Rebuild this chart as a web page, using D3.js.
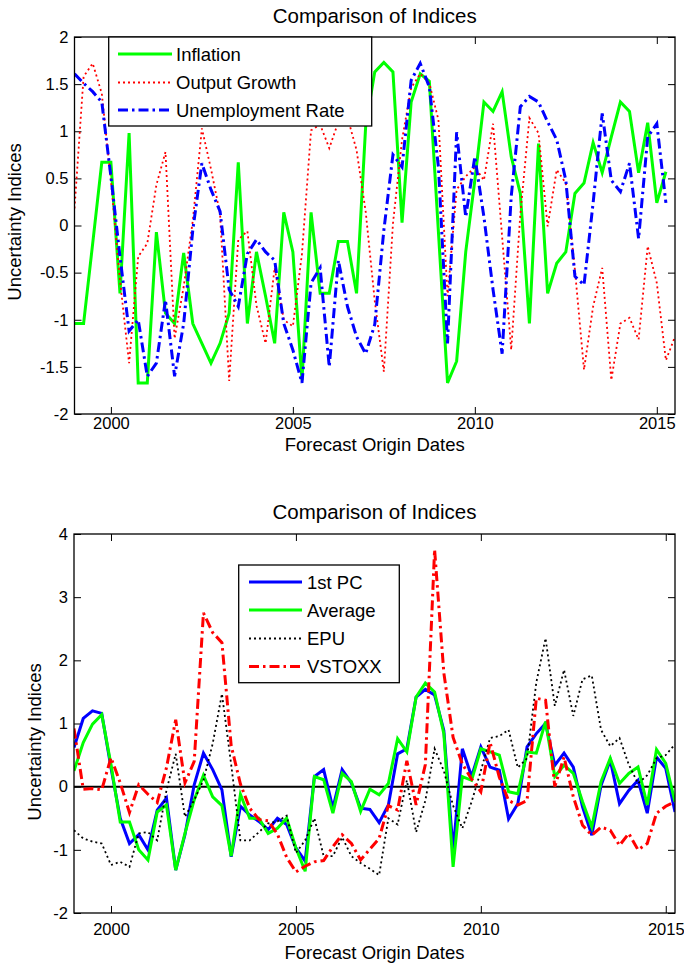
<!DOCTYPE html>
<html>
<head>
<meta charset="utf-8">
<script src="https://cdn.jsdelivr.net/npm/d3@7"></script>
<style>
    body { margin: 0; background: #fff; }
    svg { font-family: "Liberation Sans", Arial, Helvetica, sans-serif; }
</style>
</head>
<body>
<div id="chart"></div>
<script>
// Quarterly data, first observation 1999Q1
const startYear = 1999;
const xTickYears = [2000, 2005, 2010, 2015];
const topYTicks = [-2, -1.5, -1, -0.5, 0, 0.5, 1, 1.5, 2];
const bottomYTicks = [-2, -1, 0, 1, 2, 3, 4];

// Top panel series
const inflation = [-1.04, -1.04, -0.19, 0.67, 0.67, -0.72, 0.98, -1.67, -1.67, -0.07,
    -0.93, -1.04, -0.29, -1.04, -1.25, -1.46, -1.25, -0.93, 0.67, -1.04,
    -0.28, -0.75, -1.25, 0.14, -0.28, -1.64, 0.14, -0.72, -0.72, -0.17,
    -0.17, -0.72, 1.05, 1.63, 1.73, 1.63, 0.03, 1.31, 1.61, 1.53,
    -0.07, -1.67, -1.44, -0.28, 0.48, 1.31, 1.21, 1.42, 0.73, 0.34,
    -1.04, 0.87, -0.72, -0.40, -0.28, 0.34, 0.45, 0.88, 0.56, 0.94,
    1.31, 1.21, 0.56, 1.09, 0.24, 0.57];

const outputGrowth = [0.18, 1.58, 1.72, 1.40, 0.48, -0.58, -1.46, -0.33, -0.19, 0.43,
    0.78, -1.20, -0.65, 0.05, 1.03, 0.60, 0.12, -1.65, -0.15, -0.06,
    -0.85, -1.25, -0.45, -1.00, -1.07, -0.30, 1.01, 1.07, 0.82, 1.10,
    1.15, 0.80, 0.15, -0.80, -1.55, 0.02, 0.91, 1.46, 1.61, 1.51,
    1.12, -0.75, 0.38, 0.52, 0.62, 0.48, 1.08, -0.12, -1.32, 0.12,
    1.14, 0.98, -0.01, 0.59, 0.45, -0.47, -1.53, -0.86, -0.45, -1.64,
    -1.04, -0.98, -1.21, -0.22, -0.61, -1.43, -1.18];

const unemployment = [1.61, 1.51, 1.42, 1.31, 0.52, -0.33, -1.12, -1.00, -1.60, -1.46,
    -0.79, -1.60, -1.04, -0.05, 0.66, 0.38, 0.15, -0.68, -0.86, -0.30,
    -0.15, -0.28, -0.37, -1.04, -1.32, -1.67, -0.61, -0.45, -1.50, -0.37,
    -0.86, -1.18, -1.36, -1.05, -0.05, 0.75, 0.62, 1.54, 1.72, 1.47,
    0.62, -1.25, 0.99, 0.09, 0.73, 0.09, -0.68, -1.36, 0.31, 1.26,
    1.37, 1.31, 1.10, 0.91, 0.48, -0.54, -0.63, 0.24, 1.19, 0.48,
    0.36, 0.66, -0.14, 0.94, 1.08, 0.24];

// Bottom panel series
const firstPC = [0.62, 1.08, 1.20, 1.16, 0.30, -0.50, -0.90, -0.76, -1.00, -0.37,
    -0.18, -1.32, -0.76, 0.03, 0.53, 0.27, -0.05, -1.11, -0.31, -0.45,
    -0.55, -0.68, -0.50, -0.60, -0.97, -1.18, 0.16, 0.27, -0.34, 0.27,
    0.06, -0.34, -0.36, -0.57, -0.29, 0.52, 0.60, 1.42, 1.54, 1.45,
    0.89, -1.01, 0.60, 0.16, 0.63, 0.31, 0.26, -0.51, -0.27, 0.63,
    0.84, 1.00, 0.34, 0.53, 0.31, -0.32, -0.77, 0.02, 0.42, -0.27,
    -0.06, 0.10, -0.42, 0.47, 0.29, -0.40];

const average = [0.25, 0.70, 0.99, 1.14, 0.35, -0.56, -0.56, -1.00, -1.16, -0.40,
    -0.29, -1.32, -0.74, -0.21, 0.18, -0.16, -0.30, -1.10, -0.12, -0.50,
    -0.50, -0.74, -0.66, -0.50, -0.97, -1.34, 0.16, 0.11, -0.42, 0.21,
    0.08, -0.39, -0.04, -0.13, 0.05, 0.76, 0.55, 1.42, 1.64, 1.50,
    0.84, -1.27, 0.16, 0.10, 0.60, 0.55, 0.50, -0.08, -0.11, 0.55,
    0.53, 1.03, 0.16, 0.34, 0.21, -0.24, -0.64, 0.08, 0.45, 0.05,
    0.21, 0.31, -0.29, 0.59, 0.37, -0.24];

const epu = [-0.69, -0.82, -0.87, -0.90, -1.24, -1.19, -1.27, -0.74, -0.72, -0.85,
    -0.06, 0.52, -0.48, -0.21, 0.10, 0.68, 1.47, 0.35, -0.85, -0.85,
    -0.72, -0.58, -0.55, -0.46, -1.05, -0.85, -0.50, -1.10, -1.10, -0.80,
    -1.10, -1.21, -1.30, -1.40, -0.50, -0.60, 0.10, -0.72, -0.22, 0.60,
    0.25, -0.30, -0.66, -0.24, 0.25, 0.77, 0.80, 0.90, 0.30, 0.45,
    1.65, 2.35, 1.28, 1.85, 1.12, 1.70, 1.76, 0.90, 0.64, 0.77,
    0.35, 0.05, 0.18, 0.45, 0.50, 0.67];

const vstoxx = [0.92, -0.04, -0.03, -0.05, 0.46, 0.06, -0.41, 0.03, -0.12, -0.25,
    0.30, 1.06, 0.06, 0.40, 2.75, 2.44, 2.28, 0.65, 0.04, -0.34,
    -0.52, -0.54, -0.75, -1.12, -1.35, -1.26, -1.19, -1.17, -0.95, -0.76,
    -0.90, -1.16, -0.99, -0.82, -0.30, -0.37, 0.41, -0.29, 0.35, 3.75,
    1.80, 0.78, 0.36, 0.12, -0.08, 0.70, 0.15, -0.22, -0.29, -0.22,
    1.40, 1.37, 0.00, 0.47, -0.16, -0.61, -0.77, -0.64, -0.69, -0.93,
    -0.74, -1.00, -0.90, -0.42, -0.31, -0.24];

const toPoints = (values) => values.map((v, i) => ({ date: startYear + i / 4, value: v }));

// Line styles
const solid = null;
const dotted = "2,3";
const dashDot = "10,4,2.5,4";

const svg = d3.select("#chart")
    .append("svg")
    .attr("width", 684)
    .attr("height", 966);

function drawPanel(p) {
    const width = p.width;
    const height = p.height;

    const g = svg.append("g")
        .attr("transform", `translate(${p.left},${p.top})`);

    const x = d3.scaleLinear().domain(p.xDomain).range([0, width]);
    const y = d3.scaleLinear().domain(p.yDomain).range([height, 0]);

    const clipId = "clip-" + p.id;
    g.append("clipPath")
        .attr("id", clipId)
        .append("rect")
        .attr("width", width)
        .attr("height", height);

    // Axes with inward ticks on all four sides
    const fmt = (d) => String(d);
    const xAxis = g.append("g")
        .attr("transform", `translate(0,${height})`)
        .call(d3.axisBottom(x).tickValues(xTickYears).tickFormat(fmt)
            .tickSizeInner(-7).tickSizeOuter(0).tickPadding(p.xPad));
    const xTop = g.append("g")
        .call(d3.axisTop(x).tickValues(xTickYears).tickFormat("")
            .tickSizeInner(-7).tickSizeOuter(0));
    const yAxis = g.append("g")
        .call(d3.axisLeft(y).tickValues(p.yTicks).tickFormat(fmt)
            .tickSizeInner(-7).tickSizeOuter(0).tickPadding(6));
    const yRight = g.append("g")
        .attr("transform", `translate(${width},0)`)
        .call(d3.axisRight(y).tickValues(p.yTicks).tickFormat("")
            .tickSizeInner(-7).tickSizeOuter(0));

    [xAxis, xTop, yAxis, yRight].forEach((a) => {
        a.select(".domain").remove();
        a.selectAll(".tick line").attr("stroke", "#000").attr("stroke-width", 1);
        a.selectAll(".tick text")
            .attr("fill", "#000")
            .style("font-size", "16.5px");
    });

    // Zero reference line
    if (p.zeroLine) {
        g.append("line")
            .attr("x1", 0)
            .attr("x2", width)
            .attr("y1", y(0))
            .attr("y2", y(0))
            .attr("stroke", "#000")
            .attr("stroke-width", 2);
    }

    const line = d3.line()
        .x((d) => x(d.date))
        .y((d) => y(d.value));

    // Series
    p.series.forEach((s) => {
        g.append("path")
            .datum(toPoints(s.values))
            .attr("clip-path", `url(#${clipId})`)
            .attr("fill", "none")
            .attr("stroke", s.color)
            .attr("stroke-width", s.width)
            .attr("stroke-dasharray", s.dash)
            .attr("stroke-linejoin", "miter")
            .attr("d", line);
    });

    // Axes box
    g.append("rect")
        .attr("width", width)
        .attr("height", height)
        .attr("fill", "none")
        .attr("stroke", "#000")
        .attr("stroke-width", 1.3);

    // Legend
    const lg = p.legend;
    const leg = svg.append("g");
    leg.append("rect")
        .attr("x", lg.x)
        .attr("y", lg.y)
        .attr("width", lg.w)
        .attr("height", lg.h)
        .attr("fill", "#fff")
        .attr("stroke", "#000")
        .attr("stroke-width", 1.3);
    p.series.forEach((s, i) => {
        const ry = lg.rows[i];
        leg.append("line")
            .attr("x1", lg.lineX0)
            .attr("x2", lg.lineX1)
            .attr("y1", ry)
            .attr("y2", ry)
            .attr("stroke", s.color)
            .attr("stroke-width", s.width)
            .attr("stroke-dasharray", s.dash);
        leg.append("text")
            .attr("x", lg.textX)
            .attr("y", ry)
            .attr("dy", "0.36em")
            .style("font-size", "18.5px")
            .text(s.name);
    });

    // Title
    svg.append("text")
        .attr("x", p.left + width / 2)
        .attr("y", p.titleY)
        .attr("text-anchor", "middle")
        .style("font-size", "20.5px")
        .text("Comparison of Indices");

    // X-axis label
    svg.append("text")
        .attr("x", p.left + width / 2)
        .attr("y", p.xLabelY)
        .attr("text-anchor", "middle")
        .style("font-size", "18.5px")
        .text("Forecast Origin Dates");

    // Y-axis label
    svg.append("text")
        .attr("transform", `translate(${p.yLabelX},${p.yLabelCY}) rotate(-90)`)
        .attr("text-anchor", "middle")
        .style("font-size", "18.5px")
        .text("Uncertainty Indices");
}

drawPanel({
    id: "top",
    left: 74.5, top: 37, width: 600.5, height: 377,
    xDomain: [1999, 2015.5],
    yDomain: [-2, 2],
    yTicks: topYTicks,
    xPad: 3,
    zeroLine: false,
    titleY: 23,
    xLabelY: 451,
    yLabelX: 21,
    yLabelCY: 222,
    series: [
        { name: "Inflation", values: inflation, color: "#00ff00", width: 3, dash: solid },
        { name: "Output Growth", values: outputGrowth, color: "#ff0000", width: 1.8, dash: dotted },
        { name: "Unemployment Rate", values: unemployment, color: "#0000ff", width: 3, dash: dashDot }
    ],
    legend: { x: 108.7, y: 37, w: 263, h: 89, rows: [54, 82.5, 110], lineX0: 118, lineX1: 172, textX: 176 }
});

drawPanel({
    id: "bottom",
    left: 74, top: 534, width: 601, height: 379,
    xDomain: [1999, 2015.25],
    yDomain: [-2, 4],
    yTicks: bottomYTicks,
    xPad: 10,
    zeroLine: true,
    titleY: 519,
    xLabelY: 959,
    yLabelX: 41,
    yLabelCY: 742,
    series: [
        { name: "1st PC", values: firstPC, color: "#0000ff", width: 3, dash: solid },
        { name: "Average", values: average, color: "#00ff00", width: 3, dash: solid },
        { name: "EPU", values: epu, color: "#000000", width: 1.8, dash: dotted },
        { name: "VSTOXX", values: vstoxx, color: "#ff0000", width: 3, dash: dashDot }
    ],
    legend: { x: 238.7, y: 565, w: 160.6, h: 117.7, rows: [582, 610, 638.5, 666.5], lineX0: 249, lineX1: 302, textX: 307 }
});
</script>
</body>
</html>
